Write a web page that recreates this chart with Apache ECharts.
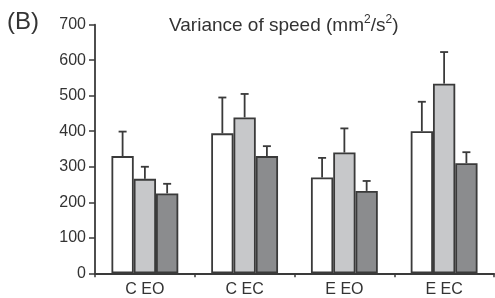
<!DOCTYPE html>
<html>
<head>
<meta charset="utf-8">
<script src="https://cdn.jsdelivr.net/npm/echarts@6/dist/echarts.min.js"></script>
<style>
  html, body { margin: 0; padding: 0; background: #fff; }
  #chartmain { width: 495px; height: 298px; }
</style>
</head>
<body>
<div id="chartmain"></div>
<script>
// groups on the x axis
var categories = ['C EO', 'C EC', 'E EO', 'E EC'];
// three bars per group (white, light grey, dark grey) + upper error
var whiteVals = [330, 394, 270, 400];
var whiteErr  = [69, 101, 55, 83];
var lightVals = [266, 439, 340, 534];
var lightErr  = [34, 66, 68, 89];
var darkVals  = [225, 330, 232, 310];
var darkErr   = [27, 28, 28, 31];
var yTicks = [0, 100, 200, 300, 400, 500, 600, 700];

var fills = ['#ffffff', '#c7c8ca', '#8b8c8e'];
var edge = '#3a3a3a';
var gapRatio = 0.33;

function errSeries(vals, errs, idx) {
    return {
        type: 'custom',
        z: 5,
        data: vals.map(function (v, i) { return [i, v, v + errs[i]]; }),
        renderItem: function (params, api) {
            var band = api.size([1, 0])[0];
            var bw = band * (1 - gapRatio) / 3;
            var off = (idx - 1) * bw;
            var base = api.coord([api.value(0), api.value(1)]);
            var top = api.coord([api.value(0), api.value(2)]);
            var x = base[0] + off;
            var cap = 4;
            var st = { stroke: edge, lineWidth: 1.8 };
            return {
                type: 'group',
                children: [
                    { type: 'line', shape: { x1: x, y1: base[1], x2: x, y2: top[1] }, style: st },
                    { type: 'line', shape: { x1: x - cap, y1: top[1], x2: x + cap, y2: top[1] }, style: st }
                ]
            };
        }
    };
}

function barSeries(vals, idx) {
    return {
        type: 'bar',
        data: vals,
        barGap: '0%',
        barCategoryGap: (gapRatio * 100) + '%',
        z: 3,
        itemStyle: { color: fills[idx], borderColor: edge, borderWidth: 1.8 }
    };
}

var myChart = echarts.init(document.getElementById('chartmain'));
var option = {
    animation: false,
    textStyle: { fontFamily: 'Liberation Sans, Arial, sans-serif' },
    title: {
        text: 'Variance of speed (mm{sup|2}/s{sup|2})',
        left: 164,
        top: 9,
        textStyle: {
            fontSize: 19,
            fontWeight: 'normal',
            color: '#333',
            lineHeight: 23,
            rich: {
                sup: { fontSize: 12, color: '#333', verticalAlign: 'top', lineHeight: 14 }
            }
        }
    },
    graphic: [{
        type: 'text',
        left: 7,
        top: 10,
        style: { text: '(B)', fontSize: 24, fill: '#333', fontFamily: 'Liberation Sans, Arial, sans-serif' }
    }],
    grid: { left: 95, right: 1, top: 24.7, bottom: 24.7, containLabel: false },
    xAxis: {
        type: 'category',
        data: categories,
        axisLine: { lineStyle: { color: edge, width: 1.8 } },
        axisTick: { show: true, length: 4, lineStyle: { color: edge, width: 1.5 } },
        axisLabel: { color: '#333', fontSize: 16, margin: 8 }
    },
    yAxis: {
        type: 'value',
        min: yTicks[0],
        max: yTicks[yTicks.length - 1],
        interval: 100,
        splitLine: { show: false },
        axisLine: { show: true, lineStyle: { color: edge, width: 1.8 } },
        axisTick: { show: true, length: 6, lineStyle: { color: edge, width: 1.5 } },
        axisLabel: { color: '#333', fontSize: 16, margin: 9 }
    },
    series: [
        barSeries(whiteVals, 0),
        barSeries(lightVals, 1),
        barSeries(darkVals, 2),
        errSeries(whiteVals, whiteErr, 0),
        errSeries(lightVals, lightErr, 1),
        errSeries(darkVals, darkErr, 2)
    ]
};
myChart.setOption(option);
</script>
</body>
</html>
